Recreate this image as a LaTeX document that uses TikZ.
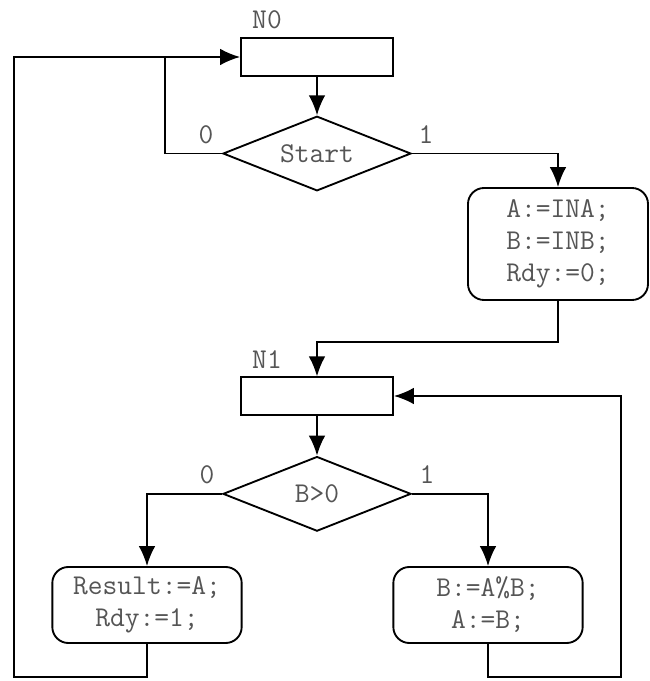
\documentclass[tikz,border=0pt]{standalone}
\usetikzlibrary{arrows.meta,positioning,shapes.geometric}
\definecolor{txtgray}{RGB}{85,85,85}

\begin{document}
\begin{tikzpicture}[x=0.75pt,y=0.75pt,line width=1.4pt,
        every node/.style={text=txtgray,font=\ttfamily\fontsize{21.5}{24}\selectfont},
        box/.style={rectangle,draw=black,minimum width=114pt,minimum height=28pt},
        decision/.style={diamond,draw=black,aspect=2.5,inner sep=0pt,
          minimum width=141pt,minimum height=56pt},
        proc/.style={rectangle,rounded corners=12pt,draw=black,align=center,
          minimum width=142pt,minimum height=57pt},
        arrow/.style={-{Latex[length=15pt,width=12.5pt]}}]
        \useasboundingbox (0,0) rectangle (649,681);
        % state N0
        \node[box] (n0) at (317,624) {};
        \node (n0lbl) at (267,661) {N0};
        \node[decision,below=29pt of n0] (start) {Start};
        \node (start0) at (206,546) {0};
        \node (start1) at (426,546) {1};
        \node[proc,minimum width=135pt,minimum height=84pt] (init) at (558,437)
          {A:=INA;\\B:=INB;\\Rdy:=0;};
        % state N1
        \node[box] (n1) at (317,285) {};
        \node (n1lbl) at (267,321) {N1};
        \node[decision,below=30pt of n1] (cond) {B>0};
        \node (cond0) at (207,206) {0};
        \node (cond1) at (427,206) {1};
        \node[proc] (done) at (147,76) {Result:=A;\\Rdy:=1;};
        \node[proc] (swap) at (488,76) {B:=A\%B;\\A:=B;};
        % corner points
        \coordinate (j0) at (165,624);
        \coordinate (m1) at (317,339);
        \coordinate (bl) at (14,4);
        \coordinate (br) at (621,4);
        \draw[arrow] (n0) -- (start);
        \draw (start.west) -| (j0);
        \draw[arrow] (start.east) -| (init.north);
        \draw[arrow] (init.south) |- (m1) -- (n1.north);
        \draw[arrow] (n1) -- (cond);
        \draw[arrow] (cond.west) -| (done.north);
        \draw[arrow] (cond.east) -| (swap.north);
        \draw[arrow] (done.south) |- (bl) |- (n0.west);
        \draw[arrow] (swap.south) |- (br) |- (n1.east);
      \end{tikzpicture}
\end{document}
